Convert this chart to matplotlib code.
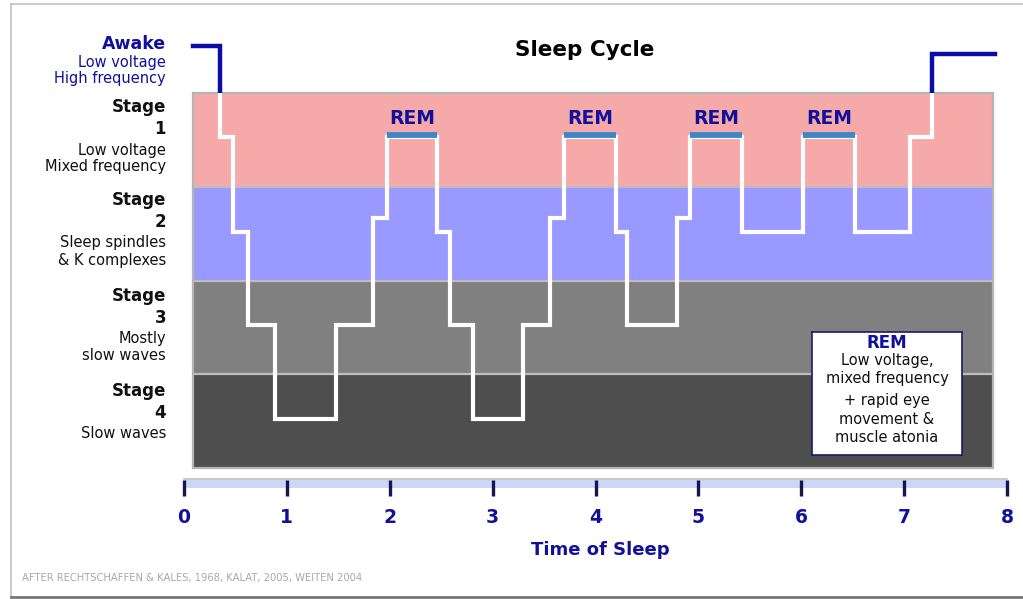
import matplotlib
matplotlib.use("Agg")
import matplotlib.pyplot as plt
from matplotlib.patches import Rectangle
from matplotlib.lines import Line2D

# ---- data ----
times = [0.087, 0.35, 0.48, 0.62, 0.885, 1.48, 1.84, 1.97, 2.46, 2.585, 2.81,
         3.29, 3.56, 3.69, 4.20, 4.31, 4.79, 4.92, 5.42, 6.015, 6.52, 7.055,
         7.27, 7.88]
stages = [0.0, 0.97, 1.98, 2.97, 3.98, 2.97, 1.83, 0.97, 1.98, 2.97, 3.98,
          2.97, 1.83, 0.97, 1.98, 2.97, 1.83, 0.97, 1.98, 0.97, 1.98, 0.97,
          0.08, 0.08]
rem_start = [1.97, 3.69, 4.92, 6.015]
rem_end = [2.46, 4.20, 5.42, 6.52]
rem_level = 0.97
hour_ticks = [0, 1, 2, 3, 4, 5, 6, 7, 8]
band_names = ["1", "2", "3", "4"]
band_colors = ["#f6a9a9", "#9999ff", "#808080", "#4e4e4e"]
band_desc = [["Low voltage", "Mixed frequency"],
             ["Sleep spindles", "& K complexes"],
             ["Mostly", "slow waves"],
             ["Slow waves"]]

W, H = 1023, 599
NAVY = "#10109a"
fig = plt.figure(figsize=(W / 100, H / 100), dpi=100)
fig.patch.set_facecolor("white")

PX_PER_H = 102.9
X0PX = 184
ax = fig.add_axes([0, 0, 1, 1])
ax.set_xlim(-X0PX / PX_PER_H, (W - X0PX) / PX_PER_H)
ax.set_ylim(0.5 + (H - 93) / 93.75, 0.5 - 93 / 93.75)
ax.axis("off")

bx0, bx1 = (193 - X0PX) / PX_PER_H, (993 - X0PX) / PX_PER_H
for i, c in enumerate(band_colors):
    ax.add_patch(Rectangle((bx0, 0.5 + i), bx1 - bx0, 1, facecolor=c,
                           edgecolor="none", zorder=1))
for i in range(1, 4):
    ax.plot([bx0, bx1], [0.5 + i, 0.5 + i], color="#bdbdbd", lw=1.6, zorder=2)
ax.add_patch(Rectangle((bx0, 0.5), bx1 - bx0, 4, facecolor="none",
                       edgecolor="#b4b4b4", lw=1.6, zorder=2))

# hypnogram line: white inside bands, blue above
clip_in = Rectangle((bx0 - 1, 0.5), bx1 - bx0 + 2, 5, transform=ax.transData)
clip_out = Rectangle((-3, -2), 14, 2.5, transform=ax.transData)
l1, = ax.step(times, stages, where="post", color="white", lw=3.0, zorder=4,
              solid_joinstyle="miter")
l1.set_clip_path(clip_in)
l2, = ax.step(times, stages, where="post", color="#0c0ca8", lw=3.2, zorder=4,
              solid_joinstyle="miter")
l2.set_clip_path(clip_out)

# REM bars and labels
for s, e in zip(rem_start, rem_end):
    ax.plot([s, e], [rem_level - 0.02, rem_level - 0.02], color="#3d86c8",
            lw=4.2, solid_capstyle="butt", zorder=5)
    ax.text((s + e) / 2, rem_level - 0.1, "REM", ha="center", va="bottom",
            fontsize=13.5, fontweight="bold", color=NAVY, zorder=6)

def fy(py):
    return 1 - py / H

# Title
fig.text(585 / W, fy(50), "Sleep Cycle", ha="center", va="center",
         fontsize=15.5, fontweight="bold", color="black")

# Left labels
XR = 166 / W
DESC = 10.5
fig.text(XR, fy(44), "Awake", ha="right", va="center", fontsize=12.5,
         fontweight="bold", color=NAVY)
fig.text(XR, fy(63), "Low voltage", ha="right", va="center", fontsize=DESC,
         color=NAVY)
fig.text(XR, fy(79), "High frequency", ha="right", va="center", fontsize=DESC,
         color=NAVY)
stage_y = [107, 200, 296, 391]
for name, desc, y0 in zip(band_names, band_desc, stage_y):
    fig.text(XR, fy(y0), "Stage", ha="right", va="center", fontsize=12,
             fontweight="bold", color="#111111")
    fig.text(XR, fy(y0 + 22), name, ha="right", va="center", fontsize=12,
             fontweight="bold", color="#111111")
    for k, d in enumerate(desc):
        fig.text(XR, fy(y0 + 43 + 17 * k), d, ha="right", va="center",
                 fontsize=DESC, color="#111111")

# REM legend box
ax_box = fig.add_axes([812 / W, fy(455), 150 / W, 123 / H])
ax_box.set_xticks([]); ax_box.set_yticks([])
ax_box.set_facecolor("white")
for sp in ax_box.spines.values():
    sp.set_color("#1a1a6a"); sp.set_linewidth(1.2)
box_lines = [("REM", 343, True), ("Low voltage,", 360, False),
             ("mixed frequency", 378, False), ("+ rapid eye", 401, False),
             ("movement &", 419, False), ("muscle atonia", 437, False)]
for t, py, b in box_lines:
    fig.text(887 / W, fy(py), t, ha="center", va="center",
             fontsize=12 if b else DESC, fontweight="bold" if b else "normal",
             color=NAVY if b else "#111111")

# time axis strip
tax = fig.add_axes([X0PX / W, fy(488), (1007 - X0PX) / W, 9 / H])
tax.set_xlim(0, 8)
tax.set_ylim(0, 1)
tax.set_facecolor("#cdd7f5")
for k in ["left", "right", "bottom"]:
    tax.spines[k].set_visible(False)
tax.spines["top"].set_color("#c4c4c4")
tax.spines["top"].set_linewidth(1.2)
tax.set_yticks([])
tax.set_xticks(hour_ticks)
tax.set_xticklabels([str(h) for h in hour_ticks])
tax.tick_params(axis="x", direction="inout", length=11, width=2.4,
                color="#161650", pad=9, labelsize=13.5, labelcolor=NAVY)
for lab in tax.get_xticklabels():
    lab.set_fontweight("bold")
fig.text(600 / W, fy(550), "Time of Sleep", ha="center", va="center",
         fontsize=13, fontweight="bold", color=NAVY)

# footer
fig.text(22 / W, fy(578), "AFTER RECHTSCHAFFEN & KALES, 1968, KALAT, 2005, WEITEN 2004",
         ha="left", va="center", fontsize=7.2, color="#a8a8a8")

# frame
fig.add_artist(Line2D([11 / W, 11 / W], [fy(4), fy(597)], color="#c0c0c0", lw=1.2))
fig.add_artist(Line2D([11 / W, 1.0], [fy(4), fy(4)], color="#c0c0c0", lw=1.2))
fig.add_artist(Line2D([11 / W, 1.0], [fy(597), fy(597)], color="#777777", lw=2))

fig.savefig("out.png", dpi=100, facecolor="white")
